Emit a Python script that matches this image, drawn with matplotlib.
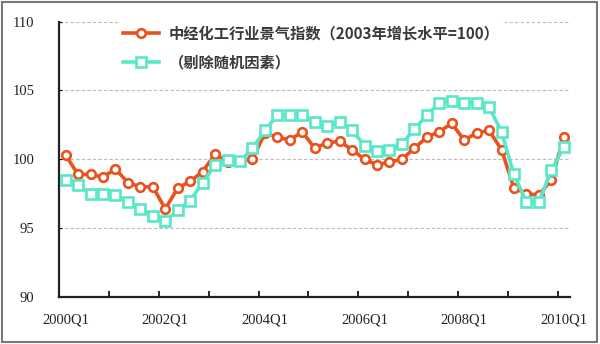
import numpy as np
import matplotlib.pyplot as plt
from matplotlib.patches import Rectangle

plt.rcParams['font.family'] = ['Noto Sans CJK SC', 'DejaVu Sans']

# quarterly data, 2000Q1 .. 2010Q1
quarters = [f"{y}Q{q}" for y in range(2000, 2011) for q in range(1, 5)][:41]

index_raw = [100.3, 98.9, 98.9, 98.7, 99.3, 98.3, 98.0, 98.0, 96.4, 97.9,
             98.4, 99.1, 100.4, 99.8, 99.9, 100.0, 101.9, 101.6, 101.4, 102.0,
             100.8, 101.2, 101.3, 100.7, 100.0, 99.6, 99.8, 100.0, 100.8, 101.6,
             102.0, 102.6, 101.4, 101.9, 102.1, 100.7, 97.9, 97.5, 97.4, 98.5,
             101.6]

index_adj = [98.5, 98.1, 97.5, 97.5, 97.4, 96.9, 96.4, 95.9, 95.5, 96.3,
             97.0, 98.3, 99.6, 99.95, 99.85, 100.8, 102.1, 103.2, 103.2, 103.2,
             102.7, 102.4, 102.7, 102.1, 101.0, 100.6, 100.7, 101.1, 102.2, 103.2,
             104.1, 104.25, 104.1, 104.1, 103.8, 102.0, 98.9, 96.9, 96.9, 99.2,
             100.9]

labels = ["中经化工行业景气指数（2003年增长水平=100）", "（剔除随机因素）"]

x = np.arange(len(quarters))

fig = plt.figure(figsize=(6, 3.44), dpi=100)
ax = fig.add_axes([0.099, 0.137, 0.851, 0.8])

ax.plot(x, index_raw, color='#E8521F', lw=2.6, marker='o', ms=6.2,
        mfc='white', mec='#E8521F', mew=1.9, label=labels[0], zorder=3)
ax.plot(x, index_adj, color='#58E8C8', lw=2.6, marker='s', ms=6.5,
        mfc='white', mec='#58E8C8', mew=1.9, label=labels[1], zorder=4)

ax.set_ylim(90, 110)
ax.set_xlim(-0.5, 40.5)
ax.set_yticks([90, 95, 100, 105, 110])
ax.set_yticklabels(['90', '95', '100', '105', '110'], family='Liberation Serif',
                   fontsize=10.5, color='#222222')
ax.tick_params(axis='y', direction='in', length=2, pad=18)
ax.grid(axis='y', ls=(0, (3, 2)), color='#BBBBBB', lw=0.8)

# ticks between categories every year, labels every two years
ax.set_xticks(np.arange(3.5, 40, 4))
ax.set_xticklabels([])
ax.tick_params(axis='x', which='major', direction='in', length=4, width=1.2)
ax.set_xticks(x[::8], minor=True)
ax.set_xticklabels([quarters[i] for i in x[::8]], minor=True,
                   family='Liberation Serif', fontsize=10.5, color='#222222')
ax.tick_params(axis='x', which='minor', length=0, pad=12)

for s in ['top', 'right']:
    ax.spines[s].set_visible(False)
for s in ['left', 'bottom']:
    ax.spines[s].set_linewidth(1.6)
    ax.spines[s].set_color('#222222')

leg = ax.legend(loc='upper left', bbox_to_anchor=(0.1, 1.03), frameon=True,
                framealpha=1, edgecolor='white', handlelength=2.4,
                labelspacing=0.85, borderpad=0.3, handletextpad=0.6,
                prop={'family': ['Noto Sans CJK SC'], 'weight': 'bold', 'size': 11})
for t in leg.get_texts():
    t.set_color('#3A3A3A')

fig.patches.append(Rectangle((0.003, 0.005), 0.992, 0.99, transform=fig.transFigure,
                             fill=False, edgecolor='#777777', lw=1.5))

fig.savefig('out.png', dpi=100)
